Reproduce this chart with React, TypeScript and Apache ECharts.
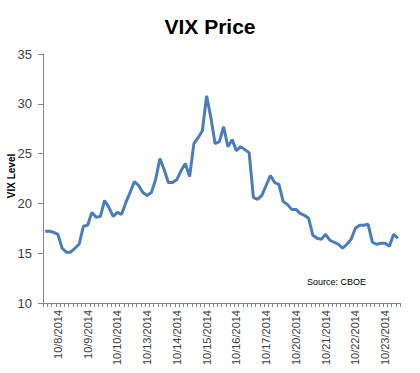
import React, { useEffect, useRef } from "react";
import * as echarts from "echarts";

const days = [
  "10/8/2014", "10/9/2014", "10/10/2014", "10/13/2014", "10/14/2014", "10/15/2014",
  "10/16/2014", "10/17/2014", "10/20/2014", "10/21/2014", "10/22/2014", "10/23/2014",
];
const sessionTimes = ["10:00", "11:00", "12:00", "13:00", "14:00", "15:00", "16:00"];

const vixValues = [
  17.2, 17.2, 17.1, 16.9, 15.5, 15.1, 15.1,
  15.5, 15.9, 17.7, 17.8, 19.1, 18.6, 18.7,
  20.3, 19.6, 18.7, 19.1, 18.9, 20.1, 21.1,
  22.2, 21.8, 21.1, 20.8, 21.1, 22.4, 24.5,
  23.4, 22.1, 22.1, 22.4, 23.3, 24.0, 22.7,
  26.0, 26.6, 27.3, 30.8, 28.6, 26.0, 26.2,
  27.7, 25.7, 26.4, 25.3, 25.7, 25.4, 25.1,
  20.6, 20.4, 20.8, 21.8, 22.8, 22.1, 21.9,
  20.2, 19.9, 19.4, 19.4, 19.0, 18.8, 18.5,
  16.8, 16.5, 16.4, 16.9, 16.3, 16.1, 15.9,
  15.5, 15.9, 16.4, 17.5, 17.8, 17.8, 17.9,
  16.1, 15.9, 16.0, 16.0, 15.7, 16.9, 16.5,
];

const categories: string[] = [];
days.forEach((d) => sessionTimes.forEach((t) => categories.push(d + " " + t)));

const FONT = "'Liberation Sans', Arial, sans-serif";

export default function App() {
  const ref = useRef<HTMLDivElement>(null);
  useEffect(() => {
    if (!ref.current) return;
    const chart = echarts.init(ref.current, null, { renderer: "svg" });
    chart.setOption({
      animation: false,
      backgroundColor: "#ffffff",
      title: {
        text: "VIX Price",
        left: "center",
        top: 11,
        textStyle: { fontFamily: FONT, fontSize: 21, fontWeight: "bold", color: "#000000" },
      },
      grid: { left: 43, right: 20, top: 54, bottom: 70, containLabel: false, outerBoundsMode: "none" },
      xAxis: {
        type: "category",
        data: categories,
        boundaryGap: true,
        axisLine: { lineStyle: { color: "#868686", width: 1 } },
        axisTick: { show: true, interval: 0, length: 4, lineStyle: { color: "#868686" } },
        axisLabel: {
          interval: (index: number) => index % 7 === 3,
          rotate: 90,
          margin: 7,
          fontFamily: FONT,
          fontSize: 11,
          color: "#404040",
          formatter: (v: string) => v.split(" ")[0],
        },
        splitLine: { show: false },
      },
      yAxis: {
        type: "value",
        min: 10,
        max: 35,
        interval: 5,
        axisLine: { show: true, lineStyle: { color: "#868686", width: 1 } },
        axisTick: { show: true, length: 5, lineStyle: { color: "#868686" } },
        axisLabel: { margin: 11, fontFamily: FONT, fontSize: 13, color: "#404040" },
        splitLine: { show: false },
      },
      graphic: [
        {
          type: "text",
          x: 11,
          y: 176,
          rotation: Math.PI / 2,
          style: {
            text: "VIX Level",
            fontFamily: FONT,
            fontSize: 10,
            fontWeight: "bold",
            fill: "#000000",
            align: "center",
            verticalAlign: "middle",
          },
        },
        {
          type: "text",
          left: 307,
          top: 277,
          style: { text: "Source: CBOE", fontFamily: FONT, fontSize: 9, fill: "#000000" },
        },
      ],
      series: [
        {
          type: "line",
          data: vixValues,
          symbol: "none",
          lineStyle: { color: "#4A7EBB", width: 3 },
          itemStyle: { color: "#4A7EBB" },
        },
      ],
    });
    return () => chart.dispose();
  }, []);
  return (
    <div
      ref={ref}
      style={{ position: "absolute", left: 0, top: 0, width: 420, height: 373 }}
    />
  );
}
